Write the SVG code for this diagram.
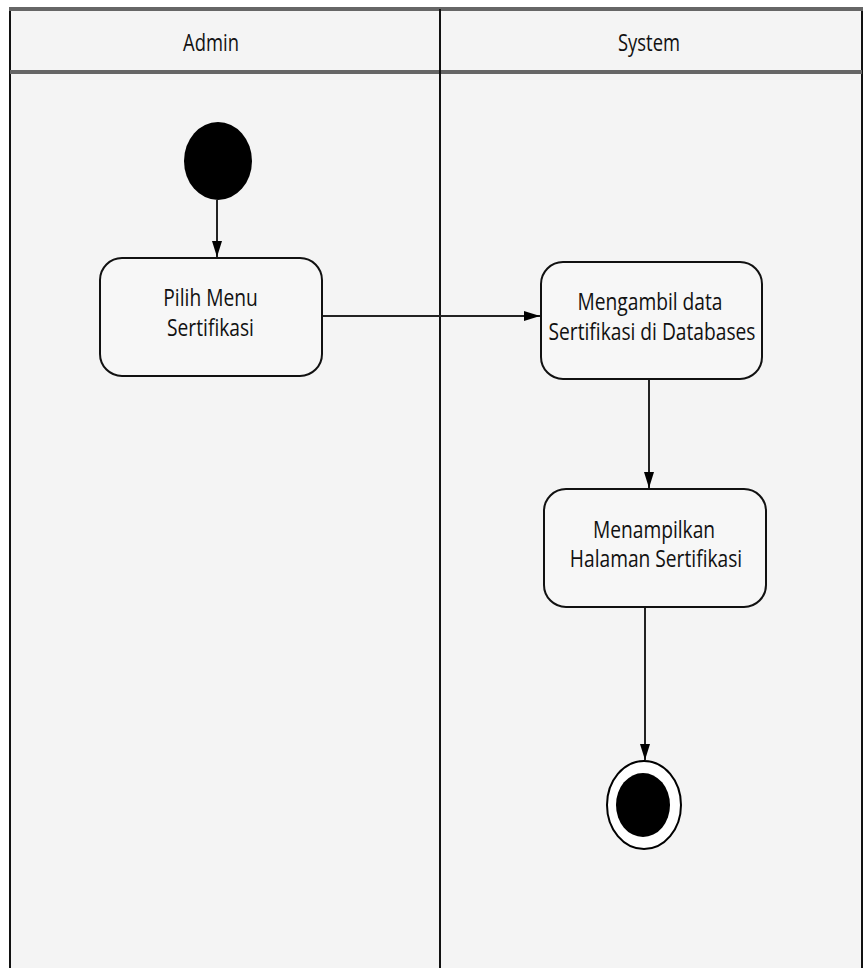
<svg xmlns="http://www.w3.org/2000/svg" width="866" height="968" viewBox="0 0 866 968">
  <defs>
    <marker id="arrowhead" viewBox="0 0 16 10" refX="16" refY="5" markerWidth="16" markerHeight="10" markerUnits="userSpaceOnUse" orient="auto">
      <path d="M0,0 L16,5 L0,10 z" fill="#000"/>
    </marker>
  </defs>
  <style>
    /* condensed look: wide font squeezed horizontally via scale(0.8,1) */
    .lane-title { font-family: "Open Sans", "Noto Sans", sans-serif; font-size: 23px; fill: #111; text-anchor: middle; }
    .label { font-family: "Open Sans", "Noto Sans", sans-serif; font-size: 24px; fill: #111; text-anchor: middle; }
    .action { fill: #f7f7f7; stroke: #111; stroke-width: 2; }
    .flow { stroke: #222; stroke-width: 2; fill: none; marker-end: url(#arrowhead); }
  </style>
  <rect x="0" y="0" width="866" height="968" fill="#ffffff"/>

  <!-- swimlane frame -->
  <g id="swimlanes">
    <rect x="10" y="9" width="852" height="970" fill="#f4f4f4" stroke="#111" stroke-width="2"/>
    <line x1="9" y1="9" x2="863" y2="9" stroke="#666" stroke-width="4"/>
    <line x1="10" y1="72" x2="862" y2="72" stroke="#666" stroke-width="4"/>
    <line x1="440" y1="9" x2="440" y2="968" stroke="#111" stroke-width="2"/>
    <text class="lane-title" transform="translate(211,51) scale(0.8,1)">Admin</text>
    <text class="lane-title" transform="translate(649,51) scale(0.8,1)">System</text>
  </g>

  <!-- connectors -->
  <g id="connectors">
    <line class="flow" x1="217" y1="200" x2="217" y2="257"/>
    <line class="flow" x1="322" y1="316" x2="540" y2="316"/>
    <line class="flow" x1="649" y1="380" x2="649" y2="488"/>
    <line class="flow" x1="645" y1="607" x2="645" y2="760"/>
  </g>

  <g id="start">
    <ellipse cx="218" cy="161" rx="34" ry="39" fill="#000"/>
  </g>

  <g id="pilih-menu">
    <rect class="action" x="100" y="258" width="222" height="118" rx="22"/>
    <text class="label" transform="translate(210.5,306) scale(0.8,1)">Pilih Menu</text>
    <text class="label" transform="translate(210.5,336) scale(0.8,1)">Sertifikasi</text>
  </g>

  <g id="mengambil-data">
    <rect class="action" x="541" y="262" width="221" height="117" rx="22"/>
    <text class="label" transform="translate(650,310) scale(0.8,1)">Mengambil data</text>
    <text class="label" transform="translate(652,340) scale(0.8,1)">Sertifikasi di Databases</text>
  </g>

  <g id="menampilkan">
    <rect class="action" x="544" y="489" width="222" height="118" rx="22"/>
    <text class="label" transform="translate(654,538) scale(0.8,1)">Menampilkan</text>
    <text class="label" transform="translate(656,567) scale(0.8,1)">Halaman Sertifikasi</text>
  </g>

  <g id="end">
    <ellipse cx="644" cy="805" rx="37" ry="44" fill="#fff" stroke="#000" stroke-width="2"/>
    <ellipse cx="643" cy="805" rx="27" ry="32" fill="#000"/>
  </g>
</svg>
